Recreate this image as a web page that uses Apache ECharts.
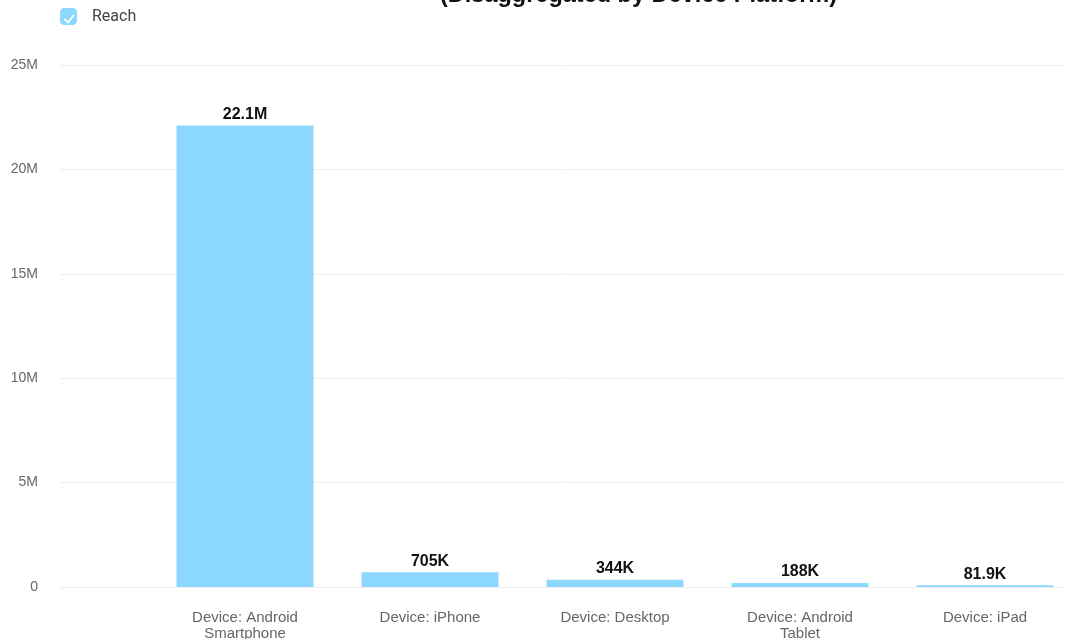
<!DOCTYPE html>
<html>
<head>
<meta charset="utf-8">
<script src="https://cdn.jsdelivr.net/npm/echarts@6/dist/echarts.min.js"></script>
<style>
html,body{margin:0;padding:0;background:#fff;}
#main{width:1065px;height:639px;}
</style>
</head>
<body>
<div id="main"></div>
<script>
const titleText = '(Disaggregated by Device Platform)';
const seriesName = 'Reach';
const categories = ['Device: Android\nSmartphone', 'Device: iPhone', 'Device: Desktop', 'Device: Android\nTablet', 'Device: iPad'];
const reachValues = [22100000, 705000, 344000, 188000, 81900];
const yMin = 0, yMax = 25000000, yInterval = 5000000;
// category slots on the x scale (one empty slot on the left, plot runs past the right edge)
const xMin = -1, xMax = 4.4324;

function fmtValue(v) {
  if (v >= 1e6) return (v / 1e6).toFixed(1) + 'M';
  if (v >= 1e5) return Math.round(v / 1e3) + 'K';
  return (v / 1e3).toFixed(1) + 'K';
}
function fmtTick(v) {
  return v === 0 ? '0' : (v / 1e6) + 'M';
}

const barData = reachValues.map((v, i) => [i, v]);

const chart = echarts.init(document.getElementById('main'));
const font = 'Arial, "Liberation Sans", sans-serif';
chart.setOption({
  animation: false,
  title: {
    text: titleText,
    left: 440,
    top: -16,
    padding: 0,
    textStyle: {fontSize: 23.5, fontWeight: 'bold', color: '#111', fontFamily: font}
  },
  legend: {
    data: [seriesName],
    left: 55,
    top: 3,
    icon: 'roundRect',
    itemWidth: 17,
    itemHeight: 17,
    textStyle: {fontSize: 16, color: '#444', fontFamily: 'Roboto, sans-serif', padding: [0, 0, 0, 10]}
  },
  graphic: [{
    type: 'polyline',
    left: 62,
    top: 12.5,
    z: 100,
    silent: true,
    shape: {points: [[0, 4], [3.5, 7.5], [9.5, 0]]},
    style: {stroke: '#ffffff', lineWidth: 1.8, fill: null}
  }],
  grid: {left: 60, right: 0, top: 65, bottom: 52, outerBoundsMode: 'none', containLabel: false},
  xAxis: {
    type: 'value', min: xMin, max: xMax, interval: 1,
    axisLine: {show: false}, axisTick: {show: false}, splitLine: {show: false},
    axisLabel: {
      color: '#666', fontSize: 15, fontFamily: font, margin: 23, lineHeight: 16,
      showMinLabel: true, showMaxLabel: true,
      formatter: v => (Number.isInteger(v) && categories[v]) ? categories[v] : ''
    }
  },
  yAxis: {
    type: 'value', min: yMin, max: yMax, interval: yInterval,
    axisLine: {show: false}, axisTick: {show: false},
    splitLine: {lineStyle: {color: '#eeeeee', width: 1}},
    axisLabel: {color: '#666', fontSize: 14, fontFamily: font, margin: 22, formatter: fmtTick}
  },
  series: [{
    name: seriesName,
    type: 'bar',
    data: barData,
    barWidth: 137,
    itemStyle: {color: '#8dd8ff'},
    label: {
      show: true, position: 'top', distance: 3,
      color: '#111', fontWeight: 'bold', fontSize: 16, fontFamily: font,
      formatter: p => fmtValue(p.value[1])
    }
  }]
});
</script>
</body>
</html>
